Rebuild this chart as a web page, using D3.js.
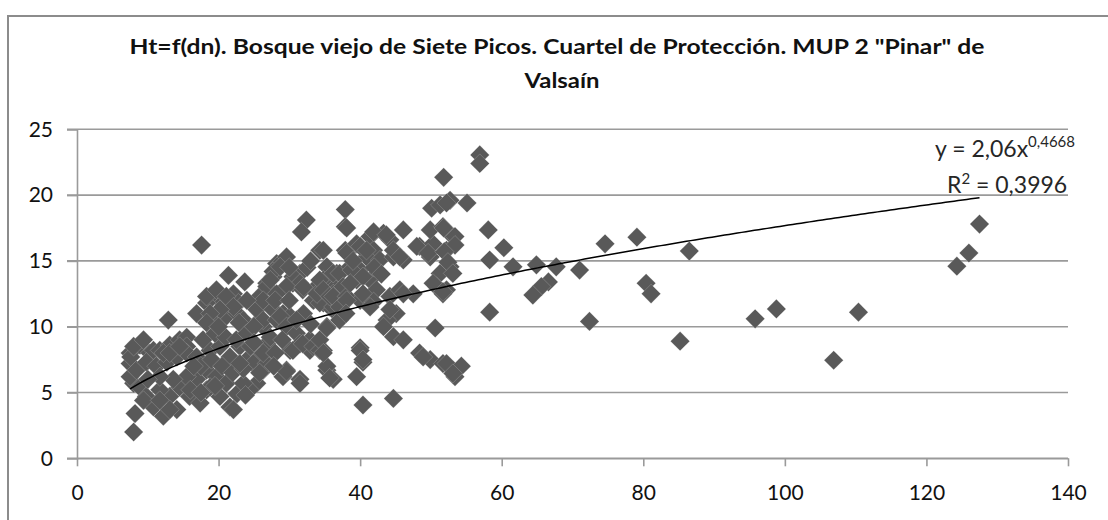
<!DOCTYPE html>
<html>
<head>
<meta charset="utf-8">
<script src="https://cdn.jsdelivr.net/npm/d3@7"></script>
<style>
  html, body { margin: 0; padding: 0; background: #ffffff; }
  svg { display: block; }
</style>
</head>
<body>
<svg id="chart" width="1108" height="520"></svg>
<script>
// Title lines
const titleLines = ["Ht=f(dn). Bosque viejo de Siete Picos. Cuartel de Protección. MUP 2 \"Pinar\" de", "Valsaín"];

// Tick values
const xTicks = [0, 20, 40, 60, 80, 100, 120, 140];
const yTicks = [0, 5, 10, 15, 20, 25];

// Power trend line fitted to the sample: Ht = a * dn^b
const trendA = 2.06;
const trendB = 0.4668;
const trendR2 = "0,3996";

// Normal diameter (dn, cm) of each tree
const dn = [
  // 7–18 cm
  8.0, 8.2, 8.0, 7.5, 7.5, 7.5, 7.6, 8.9, 8.0, 9.4, 10.3, 10.8, 11.7, 13.1, 14.5, 15.5, 15.5, 8.4, 9.8, 11.2,
  12.7, 12.2, 14.1, 15.5, 16.9, 13.1, 14.5, 8.9, 9.8, 10.8, 12.2, 14.1, 13.1, 11.7, 14.5, 15.9, 17.4, 18.3, 16.9, 15.5,
  13.6, 11.7, 9.4, 11.7, 13.1, 12.9, 16.9, 17.6, 10.0, 16.0,
  // 17–28 cm
  21.4, 23.7, 19.3, 20.6, 18.3, 22.1, 22.8, 19.7, 21.1, 22.6, 23.5, 25.4, 25.8, 26.3, 18.3, 19.7, 21.1, 22.1, 20.2, 18.8,
  22.9, 18.3, 18.8, 20.2, 21.6, 23.0, 24.4, 18.3, 19.7, 21.1, 22.6, 21.6, 20.2, 18.8, 22.1, 26.8, 25.8, 24.9, 26.3, 25.4,
  24.4, 23.5, 26.8, 25.8, 26.3, 27.3, 27.3, 25.8, 26.8, 25.4, 27.7, 26.3, 26.8, 26.8, 26.3, 17.5, 19.0, 20.5, 22.0, 23.5,
  17.8, 19.5, 21.0, 22.5, 24.0, 20.0, 24.5, 23.0, 19.5, 17.5, 16.5, 24.0, 25.0, 23.8, 25.0,
  // 27–37 cm
  27.7, 28.2, 28.7, 27.7, 31.5, 30.5, 29.6, 28.7, 30.5, 31.5, 29.6, 31.9, 27.3, 28.2, 32.4, 31.7, 34.3, 35.3, 36.7, 33.9,
  36.2, 34.8, 36.2, 33.4, 34.8, 35.7, 36.2, 35.3, 36.7, 34.3, 36.2, 33.9, 28.2, 29.1, 30.1, 28.7, 29.6, 31.0, 32.9, 30.1,
  31.5, 32.9, 33.9, 34.8, 30.5, 31.9, 33.4, 34.3, 29.6, 31.5, 29.1, 29.6, 31.5, 35.3, 36.2, 35.3, 35.7, 34.3, 34.8, 35.3,
  37.1, 34.8, 34.3, 34.8, 35.7, 28.0, 30.0, 32.0, 33.0, 31.0, 32.5, 33.0, 30.0, 29.0, 28.0, 27.8, 32.0,
  // 37–48 cm
  37.9, 37.9, 38.1, 37.9, 39.5, 41.4, 41.9, 43.3, 44.2, 46.1, 40.9, 42.8, 44.7, 46.1, 41.9, 43.7, 38.1, 40.0, 40.9, 44.7,
  45.6, 37.1, 38.6, 40.0, 39.5, 37.6, 41.4, 42.3, 36.2, 38.1, 37.1, 40.0, 38.8, 40.4, 38.6, 40.4, 41.9, 41.4, 44.2, 45.6,
  47.5, 46.1, 45.1, 43.8, 43.3, 44.2, 44.7, 46.1, 40.0, 40.4, 39.5, 40.0, 40.4, 40.4, 44.7, 38.1, 39.0, 42.0, 43.0, 38.0,
  // 48–61 cm
  48.4, 50.3, 52.2, 53.1, 49.9, 51.7, 52.7, 51.3, 49.9, 50.8, 51.7, 48.0, 49.6, 50.1, 51.3, 52.7, 52.2, 55.1, 51.8, 56.9,
  56.9, 51.8, 53.4, 53.4, 58.1, 60.3, 51.9, 52.4, 53.1, 58.3, 50.3, 52.2, 51.7, 50.6, 48.4, 49.9, 51.7, 53.1, 52.2, 54.3,
  53.4, 53.1, 48.9, 58.3,
  // > 60 cm
  61.6, 64.9, 67.7, 71.0, 74.6, 79.1, 86.5, 66.6, 65.6, 64.4, 80.4, 81.1, 72.4, 85.2, 95.8, 98.8, 106.9, 110.4, 124.3, 126.0,
  127.5
];

// Total height (Ht, m) of each tree, same order as dn
const ht = [
  2.0, 3.4, 5.7, 6.2, 7.2, 8.0, 7.7, 8.6, 8.5, 9.0, 8.0, 8.2, 8.2, 8.6, 9.0, 9.2, 8.5, 6.7, 7.3, 7.0,
  7.3, 8.0, 7.7, 8.0, 7.7, 8.0, 8.5, 5.4, 4.7, 3.9, 3.2, 3.7, 4.7, 5.2, 5.4, 4.7, 4.2, 5.2, 6.0, 6.2,
  6.0, 6.2, 4.4, 4.4, 3.7, 10.5, 11.0, 16.2, 6.0, 5.2,
  13.9, 13.4, 12.4, 11.8, 11.8, 12.5, 11.8, 10.5, 10.8, 11.0, 10.5, 11.5, 10.5, 10.0, 12.3, 12.8, 12.3, 11.5, 11.3, 11.0,
  10.3, 10.3, 8.2, 8.5, 7.7, 8.5, 7.7, 6.7, 6.2, 5.7, 4.9, 3.9, 4.7, 5.4, 3.7, 8.7, 7.7, 7.2, 6.7, 5.7,
  5.2, 5.7, 7.2, 6.5, 8.0, 9.2, 11.5, 12.3, 11.8, 11.3, 11.3, 10.5, 13.3, 13.05, 12.0, 7.0, 7.5, 7.0, 6.5, 6.8,
  9.0, 9.5, 9.2, 9.0, 9.5, 10.0, 8.5, 7.2, 5.5, 5.0, 7.0, 12.0, 10.0, 4.8, 8.8,
  13.8, 14.8, 14.8, 14.2, 14.05, 13.3, 15.3, 14.55, 13.8, 13.3, 13.05, 12.8, 13.55, 12.5, 18.1, 17.2, 15.8, 14.55, 14.05, 13.05,
  13.05, 13.55, 14.05, 12.0, 11.8, 11.5, 12.5, 10.0, 11.0, 11.8, 11.5, 12.5, 10.5, 11.0, 10.8, 10.8, 10.0, 9.5, 9.0, 8.2,
  8.7, 8.2, 8.7, 8.2, 8.2, 8.7, 8.5, 8.2, 6.7, 6.0, 6.2, 6.6, 5.7, 6.7, 6.0, 7.0, 6.1, 9.0, 8.0, 9.9,
  10.5, 15.8, 13.55, 12.8, 12.3, 12.0, 12.0, 11.0, 10.2, 10.5, 14.5, 15.0, 14.5, 9.0, 8.0, 7.0, 13.0,
  18.9, 17.6, 17.5, 15.8, 16.3, 16.85, 15.8, 17.1, 16.6, 17.35, 15.3, 15.07, 15.3, 15.07, 17.2, 16.97, 15.6, 16.1, 15.8, 15.8,
  15.3, 14.05, 14.55, 14.3, 13.55, 13.05, 13.55, 12.8, 12.3, 12.3, 11.5, 12.0, 14.3, 13.8, 13.3, 12.5, 11.9, 11.5, 12.3, 12.8,
  12.5, 12.5, 11.0, 10.5, 10.0, 11.3, 9.24, 9.0, 8.4, 7.3, 6.2, 8.2, 7.5, 4.05, 4.55, 12.0, 15.0, 14.5, 14.0, 11.0,
  16.1, 16.3, 15.8, 16.85, 17.35, 17.6, 14.55, 14.05, 15.3, 13.05, 12.5, 16.1, 15.6, 19.0, 19.25, 19.6, 19.4, 19.4, 21.35, 23.05,
  22.4, 17.5, 16.85, 16.2, 17.35, 16.0, 15.7, 14.9, 14.05, 15.07, 13.3, 12.8, 12.66, 9.9, 8.0, 7.5, 7.2, 6.7, 7.2, 7.0,
  6.2, 6.45, 7.7, 11.1,
  14.55, 14.7, 14.55, 14.3, 16.3, 16.8, 15.75, 13.4, 13.05, 12.4, 13.3, 12.5, 10.4, 8.9, 10.6, 11.35, 7.45, 11.1, 14.6, 15.6,
  17.8
];

const W = 1108, H = 520;
const svg = d3.select("#chart");

svg.append("rect").attr("width", W).attr("height", H).attr("fill", "#ffffff");

// Chart area frame
svg.append("rect")
  .attr("x", 8).attr("y", 16)
  .attr("width", W + 20).attr("height", H + 20)
  .attr("fill", "none")
  .attr("stroke", "#8c8c8c")
  .attr("stroke-width", 2);

const x = d3.scaleLinear().domain([0, 140]).range([77, 1068]);
const y = d3.scaleLinear().domain([0, 25]).range([458.3, 129.3]);

const gridColor = "#9a9a9a";
const tickFont = "Lato, 'Open Sans', 'Liberation Sans', sans-serif";

// Horizontal gridlines, extended left to double as tick marks
svg.append("g")
  .selectAll("line")
  .data(yTicks)
  .join("line")
  .attr("x1", x(0) - 10).attr("x2", x(140))
  .attr("y1", d => y(d)).attr("y2", d => y(d))
  .attr("stroke", gridColor)
  .attr("stroke-width", 1.6);

// Y axis
const yAxis = svg.append("g")
  .attr("transform", `translate(${x(0)},0)`)
  .call(d3.axisLeft(y).tickValues(yTicks).tickSize(10).tickPadding(14).tickFormat(d3.format("d")));
yAxis.select(".domain").attr("stroke", gridColor).attr("stroke-width", 1.6);
yAxis.selectAll(".tick line").attr("stroke", gridColor).attr("stroke-width", 1.6);
yAxis.selectAll(".tick text")
  .attr("font-family", tickFont).attr("font-size", 21).attr("fill", "#111");

// X axis
const xAxis = svg.append("g")
  .attr("transform", `translate(0,${y(0)})`)
  .call(d3.axisBottom(x).tickValues(xTicks).tickSize(8).tickPadding(19).tickSizeOuter(0).tickFormat(d3.format("d")));
xAxis.select(".domain").attr("stroke", gridColor).attr("stroke-width", 1.6);
xAxis.selectAll(".tick line").attr("stroke", gridColor).attr("stroke-width", 1.6);
xAxis.selectAll(".tick text")
  .attr("font-family", tickFont).attr("font-size", 21).attr("fill", "#111");

// Diamond markers
const r = 9.6;
const diamond = `M0,${-r}L${r},0L0,${r}L${-r},0Z`;
const pts = dn.map((d, i) => ({ dn: d, ht: ht[i] }));
svg.append("g")
  .selectAll("path")
  .data(pts)
  .join("path")
  .attr("d", diamond)
  .attr("transform", d => `translate(${x(d.dn)},${y(d.ht)})`)
  .attr("fill", "#595959")
  .attr("stroke", "#ffffff")
  .attr("stroke-opacity", 0.3)
  .attr("stroke-width", 0.6);

// Power trend line over the range of dn
const [dMin, dMax] = d3.extent(dn);
const trendPts = d3.range(0, 201).map(i => {
  const v = dMin + (dMax - dMin) * i / 200;
  return [v, trendA * Math.pow(v, trendB)];
});
svg.append("path")
  .datum(trendPts)
  .attr("fill", "none")
  .attr("stroke", "#000")
  .attr("stroke-width", 1.5)
  .attr("d", d3.line().x(d => x(d[0])).y(d => y(d[1])));

// Trend equation and R²
const eqFont = "Lato, 'Open Sans', sans-serif";
const fmtComma = v => String(v).replace(".", ",");
const eq = svg.append("text")
  .attr("x", 935).attr("y", 157)
  .attr("font-family", eqFont).attr("font-size", 23).attr("fill", "#262626");
eq.append("tspan").text(`y = ${fmtComma(trendA)}x`);
eq.append("tspan").attr("dy", -10).attr("font-size", 15).text(fmtComma(trendB));

const rq = svg.append("text")
  .attr("x", 947).attr("y", 193)
  .attr("font-family", eqFont).attr("font-size", 23).attr("fill", "#262626");
rq.append("tspan").text("R");
rq.append("tspan").attr("dy", -9).attr("font-size", 15).text("2");
rq.append("tspan").attr("dy", 9).text(` = ${trendR2}`);

// Title
const titleFont = "Lato, 'Open Sans', sans-serif";
svg.append("text")
  .attr("x", 557).attr("y", 54)
  .attr("text-anchor", "middle")
  .attr("font-family", titleFont).attr("font-weight", "bold").attr("font-size", 20)
  .attr("fill", "#111")
  .attr("textLength", 855).attr("lengthAdjust", "spacingAndGlyphs")
  .text(titleLines[0]);
svg.append("text")
  .attr("x", 562).attr("y", 88)
  .attr("text-anchor", "middle")
  .attr("font-family", titleFont).attr("font-weight", "bold").attr("font-size", 20)
  .attr("fill", "#111")
  .attr("textLength", 75).attr("lengthAdjust", "spacingAndGlyphs")
  .text(titleLines[1]);
</script>
</body>
</html>
